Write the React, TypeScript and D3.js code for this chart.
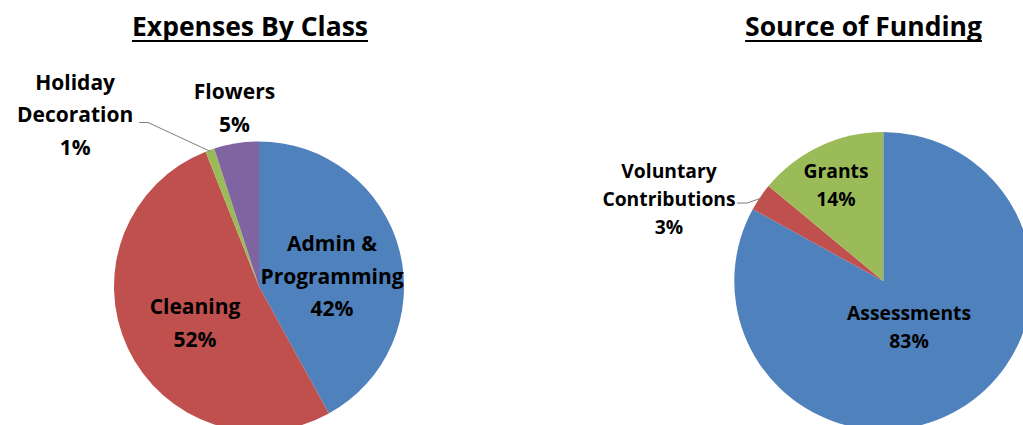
import React, { useEffect, useRef } from "react";
import * as d3 from "d3";

// ---- data ----
const expenseCategories: string[][] = [["Admin &", "Programming"], ["Cleaning"], ["Holiday", "Decoration"], ["Flowers"]];
const expenseValues = [42, 52, 1, 5];
const fundingCategories: string[][] = [["Assessments"], ["Voluntary", "Contributions"], ["Grants"]];
const fundingValues = [83, 3, 14];
const chartTitles = ["Expenses By Class", "Source of Funding"];
const sliceColors = ["#4F81BD", "#C0504D", "#9BBB59", "#8064A2"];

// ---- layout ----
const W = 1023;
const H = 425;
const FONT = "'Open Sans', sans-serif";

type LabelCfg = { k: number; nudge: [number, number]; leader?: { start: [number, number]; elbow: number } };
type ChartCfg = {
  title: string; titleX: number; cats: string[][]; values: number[];
  cx: number; cy: number; r: number; fs: number; lh: number; labels: LabelCfg[];
};

const charts: ChartCfg[] = [
  {
    title: chartTitles[0], titleX: 250, cats: expenseCategories, values: expenseValues,
    cx: 259, cy: 286.5, r: 145, fs: 21, lh: 32.7,
    labels: [
      { k: 0.5, nudge: [2.8, 7.8] },
      { k: 0.5, nudge: [1.6, 5.4] },
      { k: 1.24, nudge: [-123, -2.5], leader: { start: [64, 7.7], elbow: 9 } },
      { k: 1.24, nudge: [3.6, -1.1] },
    ],
  },
  {
    title: chartTitles[1], titleX: 863.5, cats: fundingCategories, values: fundingValues,
    cx: 883.3, cy: 281, r: 149, fs: 19.3, lh: 28,
    labels: [
      { k: 0.35, nudge: [-0.8, 0.8] },
      { k: 1.24, nudge: [-61.5, 21.6], leader: { start: [68, 4.3], elbow: 10 } },
      { k: 0.72, nudge: [-1.6, 0.8] },
    ],
  },
];

const pctFmt = d3.format(".0%");

export default function App() {
  const ref = useRef<SVGSVGElement | null>(null);

  useEffect(() => {
    const svg = d3.select(ref.current);
    svg.selectAll("*").remove();
    svg.append("rect").attr("width", W).attr("height", H).attr("fill", "#fff");

    charts.forEach((c) => {
      const g = svg.append("g").attr("transform", `translate(${c.cx},${c.cy})`);
      const pie = d3.pie<number>().sort(null).value((d) => d);
      const arcs = pie(c.values);
      const arc = d3.arc<d3.PieArcDatum<number>>().innerRadius(0).outerRadius(c.r);
      g.selectAll("path.slice")
        .data(arcs)
        .join("path")
        .attr("class", "slice")
        .attr("d", arc as any)
        .attr("fill", (_d, i) => sliceColors[i]);

      const total = d3.sum(c.values);
      arcs.forEach((a, i) => {
        const mid = (a.startAngle + a.endAngle) / 2;
        const L = c.labels[i];
        const ax = Math.sin(mid) * L.k * c.r + L.nudge[0];
        const ay = -Math.cos(mid) * L.k * c.r + L.nudge[1];
        const lines = [...c.cats[i], pctFmt(a.value / total)];
        const t = g.append("text")
          .attr("text-anchor", "middle")
          .attr("font-family", FONT)
          .attr("font-weight", "bold")
          .attr("font-size", c.fs)
          .attr("fill", "#000");
        const first = ay - ((lines.length - 1) * c.lh) / 2 + c.fs * 0.357;
        lines.forEach((ln, j) => t.append("tspan").attr("x", ax).attr("y", first + j * c.lh).text(ln));
        if (L.leader) {
          const sx = ax + L.leader.start[0];
          const sy = ay + L.leader.start[1];
          const px = Math.sin(mid) * c.r * 0.99;
          const py = -Math.cos(mid) * c.r * 0.99;
          g.append("path")
            .attr("d", `M${sx},${sy}L${sx + L.leader.elbow},${sy}L${px},${py}`)
            .attr("fill", "none")
            .attr("stroke", "#7f7f7f")
            .attr("stroke-width", 1);
        }
      });

      const tt = svg.append("text")
        .attr("x", c.titleX)
        .attr("y", 36)
        .attr("text-anchor", "middle")
        .attr("font-family", FONT)
        .attr("font-weight", "bold")
        .attr("font-size", 26.5)
        .attr("fill", "#000")
        .text(c.title);
      const w = (tt.node() as SVGTextElement).getComputedTextLength();
      svg.append("rect")
        .attr("x", c.titleX - w / 2)
        .attr("y", 40)
        .attr("width", w)
        .attr("height", 2)
        .attr("fill", "#000");
    });
  }, []);

  return (
    <div style={{ position: "fixed", left: 0, top: 0 }}>
      <svg ref={ref} width={W} height={H} style={{ display: "block" }} />
    </div>
  );
}
